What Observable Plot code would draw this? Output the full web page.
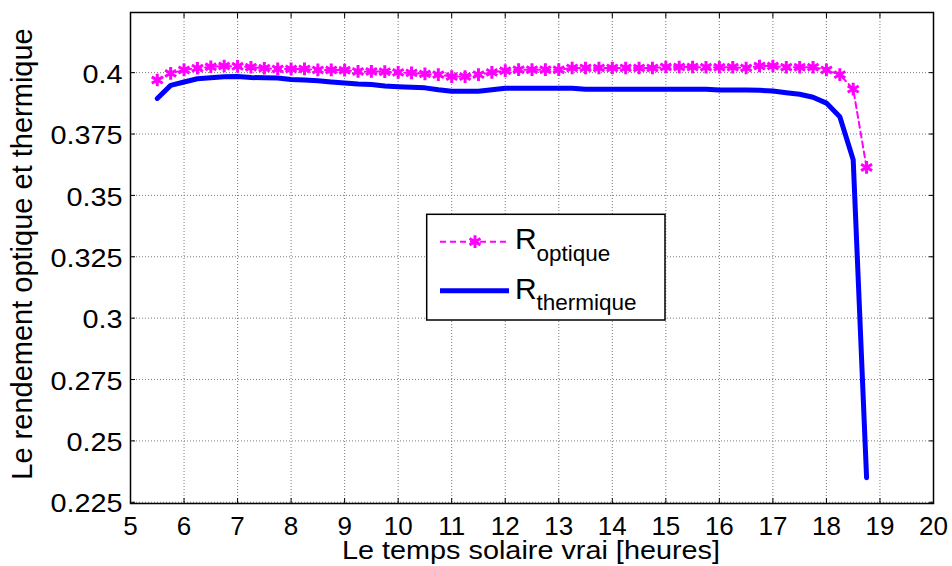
<!DOCTYPE html>
<html><head><meta charset="utf-8">
<script src="https://cdn.jsdelivr.net/npm/d3@7"></script>
<script src="https://cdn.jsdelivr.net/npm/@observablehq/plot@0.6"></script>
<style>
html,body{margin:0;padding:0;background:#fff;}
svg{display:block;}
</style>
</head><body><div id="chart"></div>
<script>
// ---- data ----
const hours = [5.5, 5.75, 6, 6.25, 6.5, 6.75, 7, 7.25, 7.5, 7.75, 8, 8.25, 8.5, 8.75, 9, 9.25, 9.5, 9.75,
  10, 10.25, 10.5, 10.75, 11, 11.25, 11.5, 11.75, 12, 12.25, 12.5, 12.75, 13, 13.25, 13.5, 13.75,
  14, 14.25, 14.5, 14.75, 15, 15.25, 15.5, 15.75, 16, 16.25, 16.5, 16.75, 17, 17.25, 17.5, 17.75,
  18, 18.25, 18.5, 18.75];
const rOptique = [0.3970, 0.3997, 0.4011, 0.4018, 0.4024, 0.4027, 0.4026, 0.4022, 0.4018, 0.4015,
  0.4015, 0.4015, 0.4011, 0.4011, 0.4010, 0.4005, 0.4005, 0.4004, 0.4001, 0.3999,
  0.3995, 0.3992, 0.3984, 0.3984, 0.3992, 0.4001, 0.4008, 0.4012, 0.4012, 0.4012,
  0.4012, 0.4019, 0.4019, 0.4019, 0.4019, 0.4019, 0.4019, 0.4019, 0.4023, 0.4023,
  0.4023, 0.4022, 0.4022, 0.4022, 0.4019, 0.4027, 0.4027, 0.4022, 0.4022, 0.4022,
  0.4011, 0.3992, 0.3933, 0.3614];
const rThermique = [0.3895, 0.3948, 0.3962, 0.3975, 0.3979, 0.3983, 0.3984, 0.3980, 0.3979, 0.3978,
  0.3972, 0.3970, 0.3967, 0.3962, 0.3958, 0.3954, 0.3952, 0.3946, 0.3943, 0.3941,
  0.3938, 0.3930, 0.3924, 0.3924, 0.3924, 0.3930, 0.3936, 0.3936, 0.3936, 0.3936,
  0.3936, 0.3936, 0.3932, 0.3932, 0.3932, 0.3932, 0.3932, 0.3932, 0.3932, 0.3932,
  0.3932, 0.3932, 0.3929, 0.3929, 0.3929, 0.3928, 0.3925, 0.3918, 0.3912, 0.3900,
  0.3876, 0.3820, 0.3645, 0.2350];
const xTicks = [5, 6, 7, 8, 9, 10, 11, 12, 13, 14, 15, 16, 17, 18, 19, 20];
const yTicks = [0.225, 0.25, 0.275, 0.3, 0.325, 0.35, 0.375, 0.4];
const seriesNames = ["optique", "thermique"];
const xTitle = "Le temps solaire vrai [heures]";
const yTitle = "Le rendement optique et thermique";

// ---- build ----
const optData = hours.map((h, i) => ({h, v: rOptique[i]}));
const thermData = hours.map((h, i) => ({h, v: rThermique[i]}));
const FONT = '"Liberation Sans", Arial, Helvetica, sans-serif';
const MAG = "#FF00FF", BLUE = "#0000FF";
const gridStyle = {stroke: "#7a7a7a", strokeOpacity: 1, strokeWidth: 1, strokeDasharray: "1,2"};

const chart = Plot.plot({
  width: 952, height: 566,
  marginLeft: 130, marginRight: 19, marginTop: 12, marginBottom: 63,
  style: {fontFamily: FONT, background: "white", color: "black", overflow: "visible"},
  x: {domain: [5, 20]},
  y: {domain: [0.2245, 0.4245]},
  marks: [
    Plot.gridX(xTicks, gridStyle),
    Plot.gridY(yTicks, gridStyle),
    Plot.axisX(xTicks, {anchor: "bottom", tickSize: 0, tickPadding: 13, fontSize: 26, label: null, tickFormat: d => String(d)}),
    Plot.axisX(xTicks, {anchor: "bottom", tickSize: -5, text: null, label: null}),
    Plot.axisX(xTicks, {anchor: "top", tickSize: -5, text: null, label: null}),
    Plot.axisY(yTicks, {anchor: "left", tickSize: 0, tickPadding: 8, fontSize: 25.5, dy: 2, label: null, tickFormat: d => String(+d.toFixed(3))}),
    Plot.axisY(yTicks, {anchor: "left", tickSize: -5, text: null, label: null}),
    Plot.axisY(yTicks, {anchor: "right", tickSize: -5, text: null, label: null}),
    Plot.line(thermData, {x: "h", y: "v", stroke: BLUE, strokeWidth: 5}),
    Plot.line(optData, {x: "h", y: "v", stroke: MAG, strokeWidth: 2, strokeDasharray: "6,4"}),
    Plot.dot(optData, {x: "h", y: "v", symbol: "asterisk", r: 6, stroke: MAG, strokeWidth: 3}),
    Plot.frame({stroke: "black", strokeWidth: 1.5})
  ]
});
document.getElementById("chart").appendChild(chart);

const svg = d3.select(chart);
// widen y tick labels to match the reference glyph proportions
svg.selectAll('g[aria-label="y-axis tick label"] text').each(function() {
  const w = this.getComputedTextLength();
  d3.select(this).attr("textLength", w * 1.13).attr("lengthAdjust", "spacingAndGlyphs");
});

// axis titles
svg.append("text")
  .attr("x", 531).attr("y", 559)
  .attr("text-anchor", "middle").attr("font-family", FONT).attr("font-size", 25)
  .attr("textLength", 378).attr("lengthAdjust", "spacingAndGlyphs")
  .attr("fill", "black").text(xTitle);
svg.append("text")
  .attr("transform", "translate(32,254) rotate(-90)")
  .attr("text-anchor", "middle").attr("font-family", FONT).attr("font-size", 29)
  .attr("fill", "black").text(yTitle);

// legend
const lg = svg.append("g").attr("font-family", FONT).attr("fill", "black").attr("text-anchor", "start");
lg.append("rect").attr("x", 426.7).attr("y", 214.3).attr("width", 238.3).attr("height", 105.7)
  .attr("fill", "white").attr("stroke", "black").attr("stroke-width", 1.5);
lg.append("line").attr("x1", 440).attr("x2", 509).attr("y1", 241.7).attr("y2", 241.7)
  .attr("stroke", MAG).attr("stroke-width", 2).attr("stroke-dasharray", "6,4");
lg.append("path").attr("d", d3.symbol(d3.symbolAsterisk, Math.PI * 36)())
  .attr("transform", "translate(475,241.7)").attr("fill", "none")
  .attr("stroke", MAG).attr("stroke-width", 3);
lg.append("line").attr("x1", 440).attr("x2", 509).attr("y1", 290.7).attr("y2", 290.7)
  .attr("stroke", BLUE).attr("stroke-width", 5);
const rows = [{rb: 248.5, sb: 260.5}, {rb: 299.3, sb: 310}];
seriesNames.forEach((name, i) => {
  lg.append("text").attr("x", 515).attr("y", rows[i].rb).attr("text-anchor", "start")
    .attr("font-size", 30).text("R");
  lg.append("text").attr("x", 536.5).attr("y", rows[i].sb).attr("text-anchor", "start")
    .attr("font-size", 22.5).text(name);
});
</script>
</body></html>
